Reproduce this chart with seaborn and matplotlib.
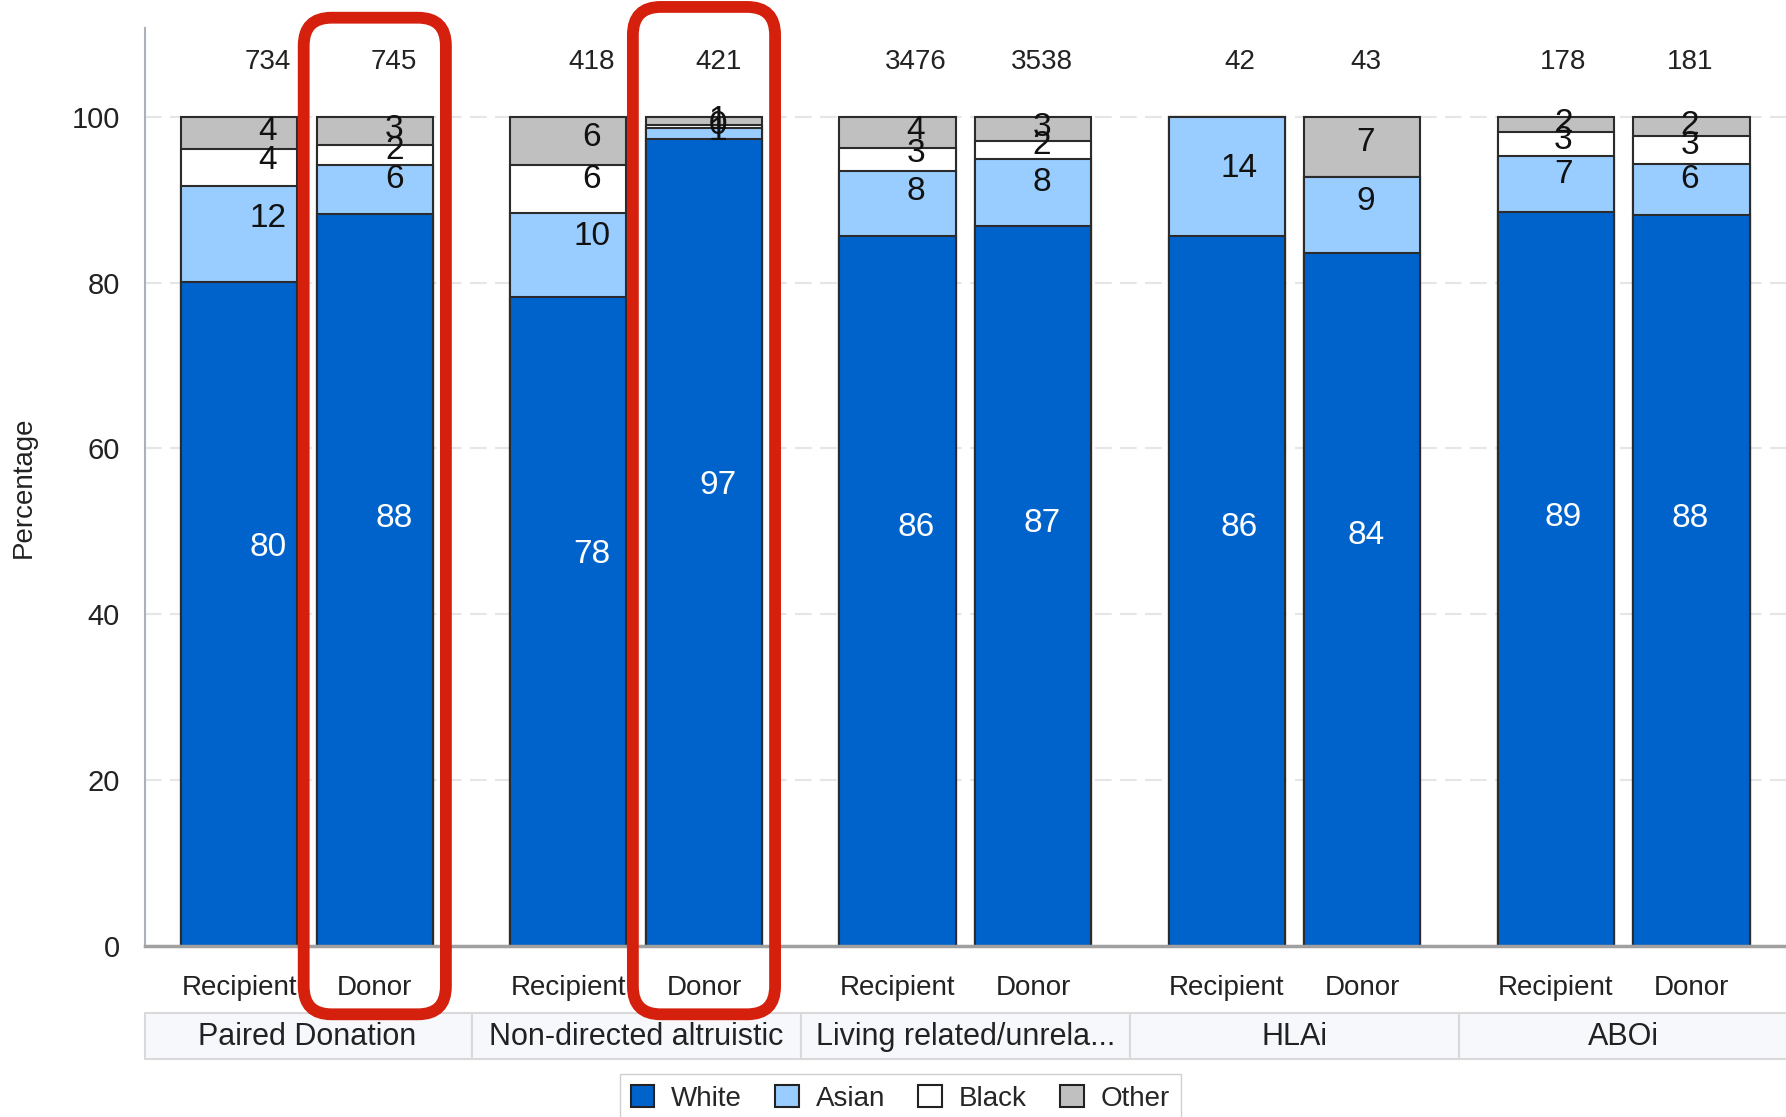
import numpy as np
import pandas as pd
import seaborn as sns
import matplotlib.pyplot as plt
from matplotlib.patches import Patch, Rectangle, FancyBboxPatch
from matplotlib.transforms import IdentityTransform

groups = ['Paired Donation', 'Non-directed altruistic', 'Living related/unrela...', 'HLAi', 'ABOi']
roles = ['Recipient', 'Donor']
races = ['White', 'Asian', 'Black', 'Other']
race_colors = ['#0063cc', '#99ccff', '#ffffff', '#c0c0c0']

# percentages per bar, order: group x (Recipient, Donor)
white = [80.1, 88.3, 78.3, 97.4, 85.7, 86.8, 85.7, 83.6, 88.6, 88.2]
asian = [11.6, 5.9, 10.1, 1.3, 7.8, 8.1, 14.3, 9.2, 6.7, 6.2]
black = [4.4, 2.4, 5.8, 0.4, 2.8, 2.2, 0.0, 0.0, 2.9, 3.3]
other = [3.9, 3.4, 5.8, 0.9, 3.7, 2.9, 0.0, 7.2, 1.8, 2.3]
counts = [734, 745, 418, 421, 3476, 3538, 42, 43, 178, 181]
# (group index, role, top of box) for the red highlight boxes
highlight = [(0, 'Donor', 112.0), (1, 'Donor', 113.3)]

df = pd.DataFrame({'group': np.repeat(groups, 2), 'role': roles * len(groups),
                   'White': white, 'Asian': asian, 'Black': black, 'Other': other})

sns.set_style('white')
plt.rcParams['font.family'] = ['Liberation Sans', 'DejaVu Sans']

fig = plt.figure(figsize=(17.86, 11.17), dpi=100)
ax = fig.add_axes([0.0812, 0.1535, 0.9188, 0.821])

# stacked bars: draw cumulative totals from the top layer down
for k in range(len(races) - 1, -1, -1):
    df['top'] = df[races[:k + 1]].sum(axis=1)
    sns.barplot(data=df, x='group', y='top', hue='role', order=groups, hue_order=roles,
                palette=[race_colors[k]] * 2, width=0.824, gap=0.143, saturation=1,
                edgecolor='#2b2b2b', linewidth=1.5, errorbar=None, legend=False, ax=ax)

xmin = -0.492
ax.set_xlim(xmin, 4.493)
ax.set_ylim(0, 110.7)

off = 0.206
bar_x = [i + (off if r == 'Donor' else -off) for i in range(len(groups)) for r in roles]
ax.set_xticks(bar_x)
ax.set_xticklabels(roles * len(groups), fontsize=20, color='#222222')
ax.set_yticks([0, 20, 40, 60, 80, 100])
ax.set_yticklabels(['0', '20', '40', '60', '80', '100'], fontsize=21, color='#222222')
ax.tick_params(axis='x', length=10, width=1.2, color='#b0b0b0', pad=11)
ax.tick_params(axis='y', length=10, width=1.2, color='#b0b0b0', pad=8)
ax.set_xlabel('')
ax.set_ylabel('Percentage', fontsize=20, color='#222222')
ax.yaxis.set_label_coords(-0.066, 0.5)

ax.yaxis.grid(True, color='#e6e6e6', linestyle=(0, (8, 4)), linewidth=1.5)
ax.set_axisbelow(True)
for s in ['top', 'right']:
    ax.spines[s].set_visible(False)
ax.spines['left'].set_color('#aab1b8')
ax.spines['left'].set_linewidth(1.5)
ax.spines['bottom'].set_color('#a0a0a0')
ax.spines['bottom'].set_linewidth(2.5)

# segment labels and bar counts
vals = df[races].to_numpy()
for j in range(len(df)):
    i, r = j // 2, j % 2
    lx = 0.073 + 0.984 * i + (0.192 if r == 1 else -0.192)
    bottom = 0
    for k in range(len(races)):
        v = vals[j, k]
        if v > 0:
            mid = bottom + v / 2
            ax.text(lx, 13.3 + 0.867 * mid, f'{v:.0f}', ha='center', va='center', fontsize=24,
                    color='white' if k == 0 else '#111111', zorder=5)
        bottom += v
    ax.text(lx, 106.6, str(counts[j]), ha='center', va='center', fontsize=20, color='#222222')

# group band under the tick labels
for i, g in enumerate(groups):
    left = max(i - 0.5, xmin)
    ax.add_patch(Rectangle((left, -13.75), i + 0.5 - left, 5.65, facecolor='#f6f8fc',
                           edgecolor='#d9d9d9', linewidth=1.5, clip_on=False, zorder=1))
    ax.text(i, -11.1, g, ha='center', va='center', fontsize=22, color='#222222', clip_on=False)

handles = [Patch(facecolor=c, edgecolor='#222222', linewidth=1.5) for c in race_colors]
fig.legend(handles, races, loc='upper center', bbox_to_anchor=(0.504, 0.0385), ncol=4,
           fontsize=20, frameon=True, fancybox=False, edgecolor='#d0d0d0', framealpha=1,
           handlelength=0.85, handleheight=0.85, handletextpad=0.6, columnspacing=1.2,
           borderpad=0.4, borderaxespad=0)

# red highlight boxes around the donor bars
for i, r, top in highlight:
    cx = i + (off if r == 'Donor' else -off)
    (x0, y0) = ax.transData.transform((cx - 0.216, -8.3))
    (x1, y1) = ax.transData.transform((cx + 0.216, top))
    fig.patches.append(FancyBboxPatch((x0, y0), x1 - x0, y1 - y0,
                                      boxstyle='round,pad=0,rounding_size=28',
                                      transform=IdentityTransform(), fill=False,
                                      edgecolor='#d4200c', linewidth=8.5, zorder=10))

fig.savefig('out.png', dpi=100)
